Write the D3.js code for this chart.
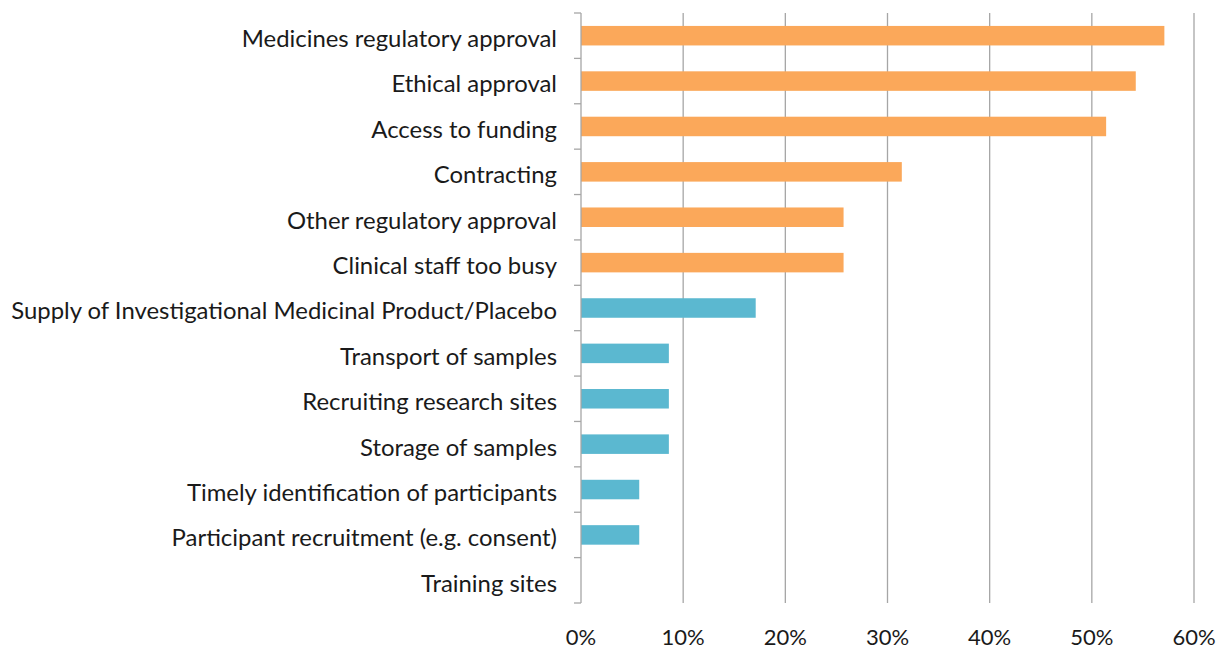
<!DOCTYPE html>
<html><head><meta charset="utf-8">
<script src="https://cdn.jsdelivr.net/npm/d3@7"></script>
<style>body{margin:0;background:#fff}svg{display:block}</style>
</head><body><svg id="c" width="1222" height="649"></svg>
<script>
const categories = ["Medicines regulatory approval","Ethical approval","Access to funding","Contracting","Other regulatory approval","Clinical staff too busy","Supply of Investigational Medicinal Product/Placebo","Transport of samples","Recruiting research sites","Storage of samples","Timely identification of participants","Participant recruitment (e.g. consent)","Training sites"];
const values = [57.1,54.3,51.4,31.4,25.7,25.7,17.1,8.6,8.6,8.6,5.7,5.7,0];
const groups = ["top","top","top","top","top","top","other","other","other","other","other","other","other"];
const xTicks = [0,10,20,30,40,50,60];

const svg = d3.select("#c");
const m = {left:581, right:1222-1194, top:13, bottom:649-603};
const W = 1222, H = 649;
const x = d3.scaleLinear().domain([0,60]).range([m.left, W-m.right]);
const y = d3.scaleBand().domain(categories).range([m.top, H-m.bottom]).paddingInner(0.57).paddingOuter(0.285);
const yb = d3.scaleBand().domain(categories).range([m.top, H-m.bottom]);
const color = {top:"#fba85a", other:"#5bb8d0"};
const font = "Lato, 'Open Sans', sans-serif";

// gridlines
svg.append("g").selectAll("line").data(xTicks.slice(1)).join("line")
  .attr("x1",d=>x(d)).attr("x2",d=>x(d)).attr("y1",m.top).attr("y2",H-m.bottom)
  .attr("stroke","#a6a6a6").attr("stroke-width",1.3);

// bars
svg.append("g").selectAll("rect").data(categories).join("rect")
  .attr("x",x(0)).attr("y",d=>y(d)).attr("height",y.bandwidth())
  .attr("width",(d,i)=>x(values[i])-x(0))
  .attr("fill",(d,i)=>color[groups[i]]);

// y axis line & ticks
const ya = svg.append("g");
ya.append("line").attr("x1",x(0)).attr("x2",x(0)).attr("y1",m.top).attr("y2",H-m.bottom).attr("stroke","#a6a6a6").attr("stroke-width",1.3);
const bounds = categories.map(c=>yb(c)).concat([H-m.bottom]);
ya.selectAll("line.t").data(bounds).join("line").attr("class","t")
  .attr("x1",x(0)-7).attr("x2",x(0)).attr("y1",d=>d).attr("y2",d=>d)
  .attr("stroke","#a6a6a6").attr("stroke-width",1.3);
ya.selectAll("text").data(categories).join("text")
  .attr("x",557).attr("y",d=>yb(d)+yb.bandwidth()/2+3).attr("dy","0.35em")
  .attr("text-anchor","end").attr("font-family",font).attr("font-size",23.9).attr("fill","#1a1a1a")
  .text(d=>d);

// x labels
svg.append("g").selectAll("text").data(xTicks).join("text")
  .attr("x",d=>x(d)).attr("y",637).attr("dy","0.35em").attr("text-anchor","middle")
  .attr("font-family",font).attr("font-size",22).attr("fill","#1a1a1a")
  .text(d=>d+"%");
</script></body></html>
